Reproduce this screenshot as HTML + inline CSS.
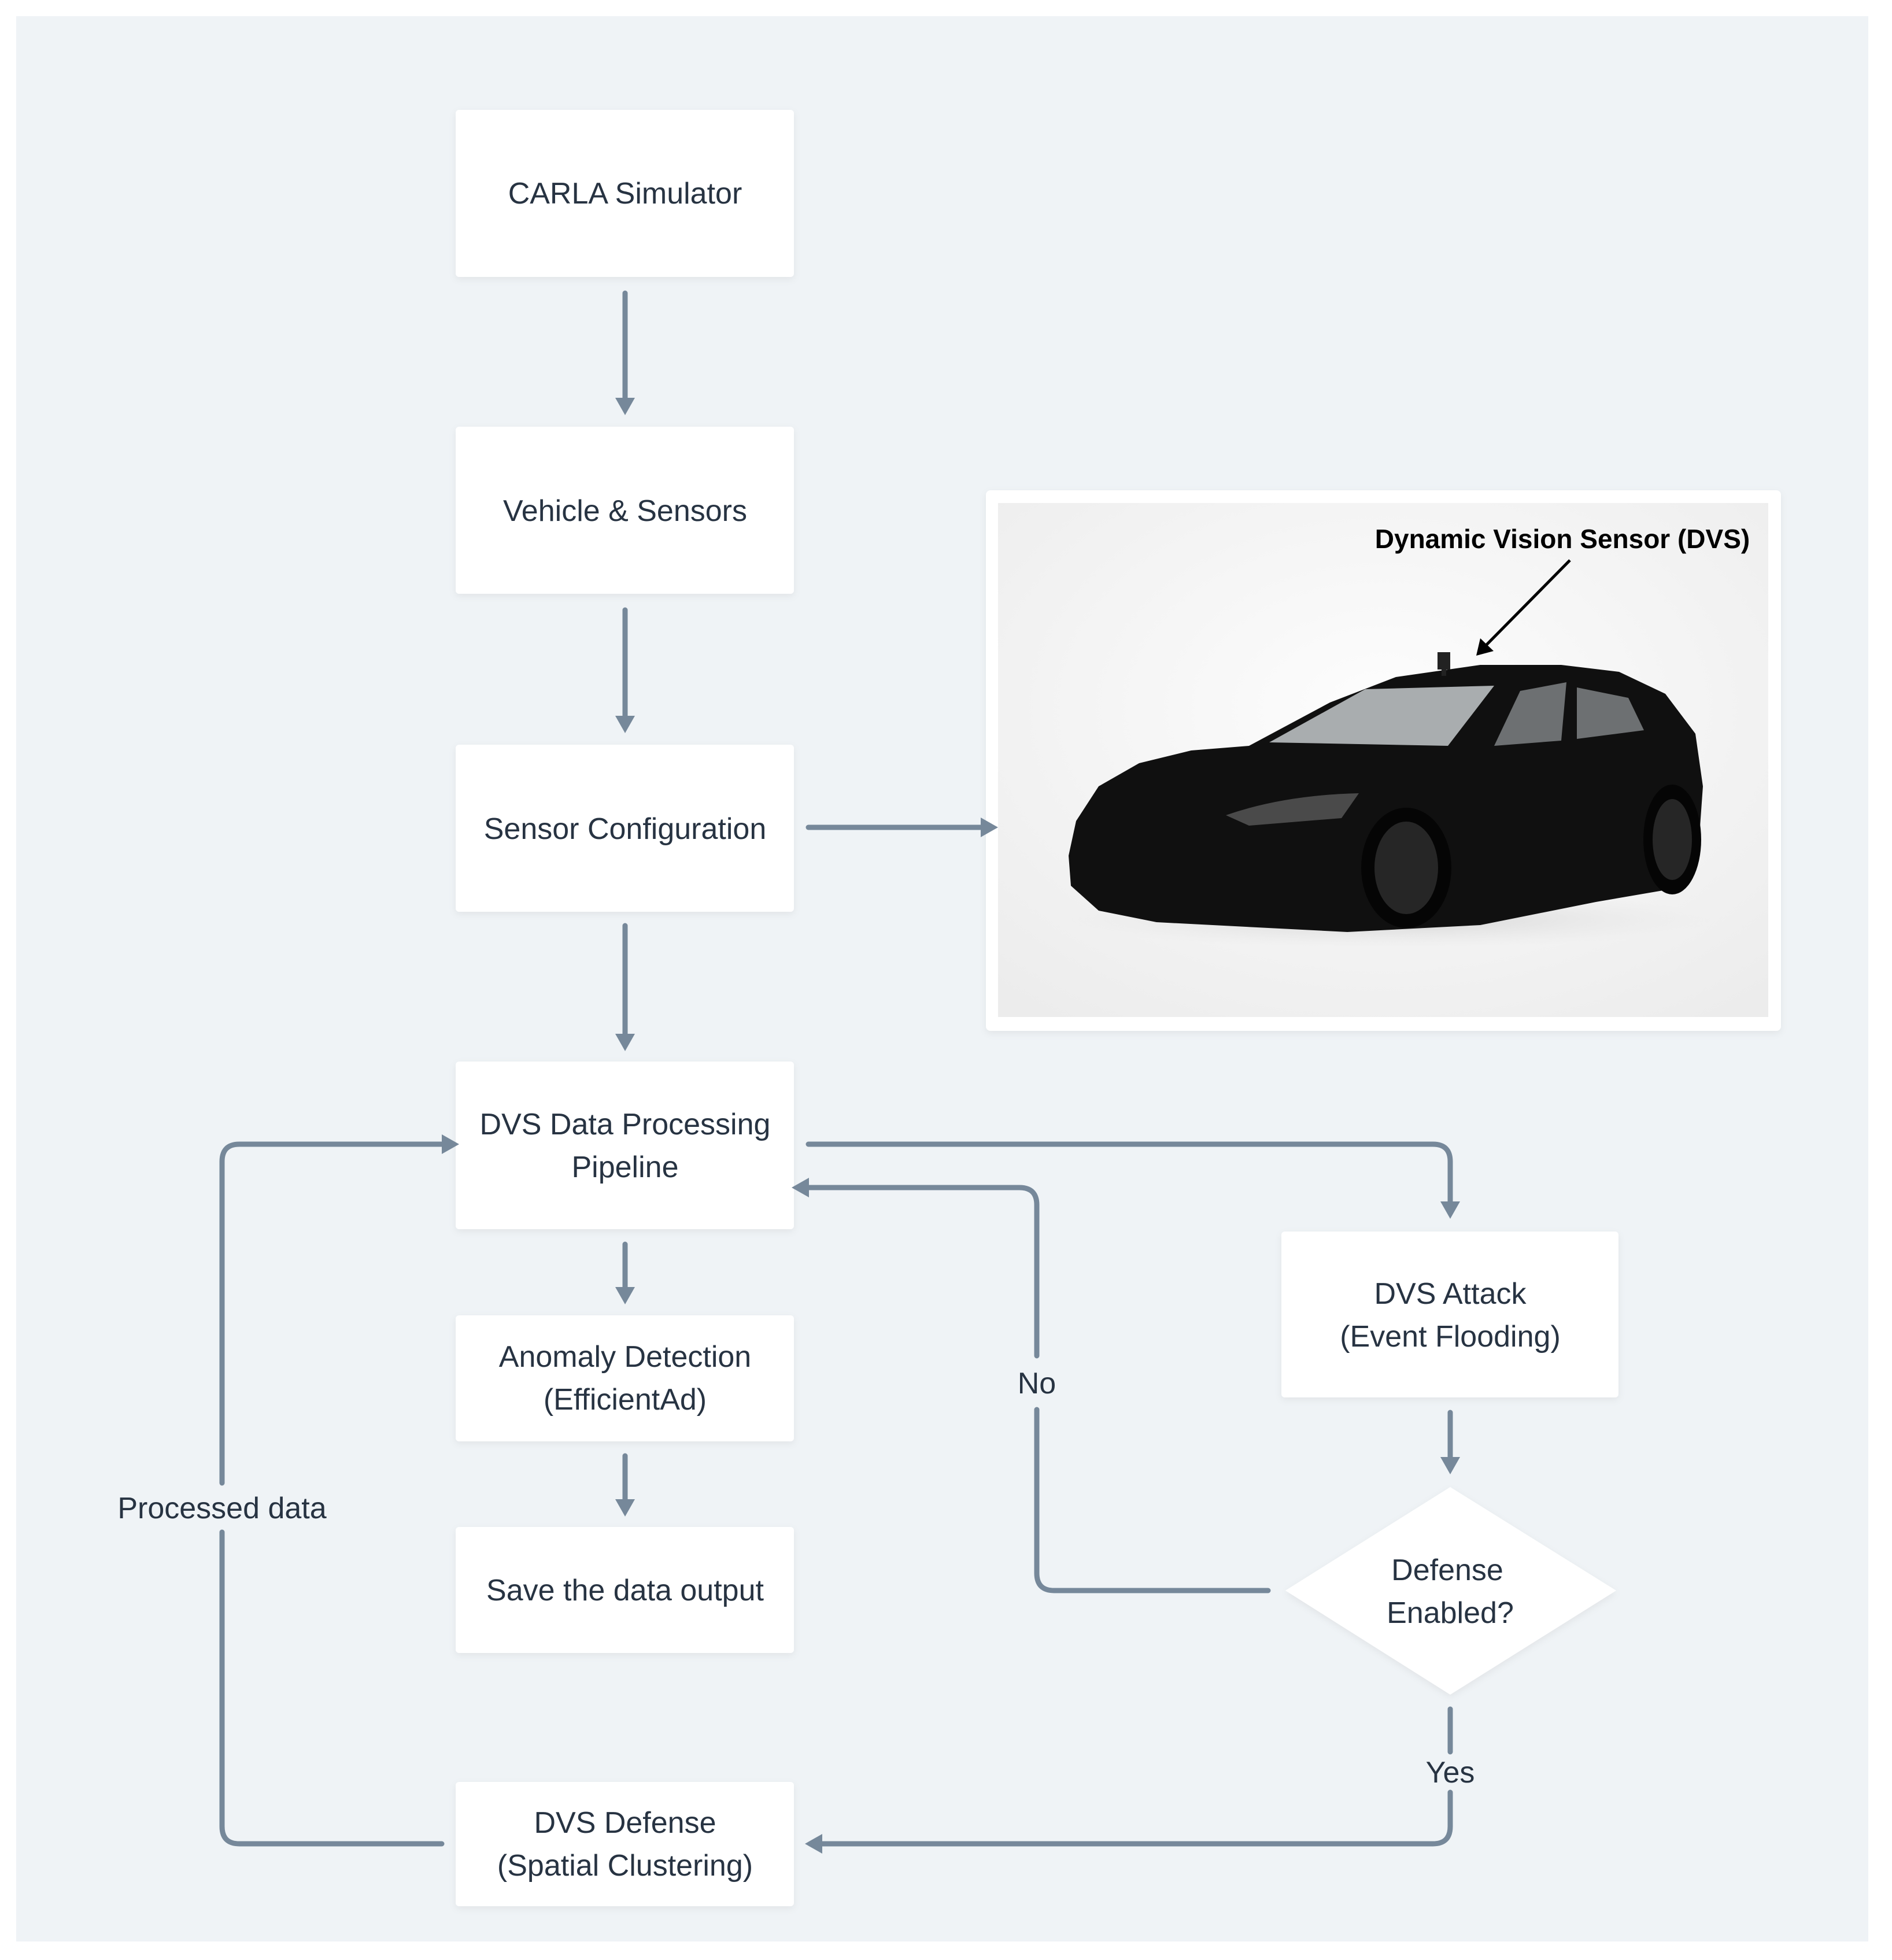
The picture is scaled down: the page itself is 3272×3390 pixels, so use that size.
<!DOCTYPE html>
<html><head><meta charset="utf-8"><style>
html,body{margin:0;padding:0;background:#fff;}
svg{display:block}
text{font-family:"Liberation Sans",sans-serif;}
</style></head><body>
<svg width="3272" height="3390" viewBox="0 0 3272 3390" xmlns="http://www.w3.org/2000/svg">
<defs>
<filter id="sh" x="-5%" y="-5%" width="110%" height="115%"><feDropShadow dx="0" dy="4" stdDeviation="6" flood-color="#000" flood-opacity="0.06"/></filter>
<radialGradient id="bgp" cx="0.5" cy="0.4" r="0.75"><stop offset="0" stop-color="#fdfdfd"/><stop offset="1" stop-color="#ececec"/></radialGradient>
<radialGradient id="gs" cx="0.5" cy="0.5" r="0.5"><stop offset="0" stop-color="#bbb" stop-opacity="0.6"/><stop offset="1" stop-color="#ddd" stop-opacity="0"/></radialGradient>
</defs>
<rect x="28" y="28" width="3203" height="3330" fill="#eff3f6"/>
<g fill="#fff" filter="url(#sh)">
<rect x="788" y="190" width="585" height="289" rx="6"/>
<rect x="788" y="738" width="585" height="289" rx="6"/>
<rect x="788" y="1288" width="585" height="289" rx="6"/>
<rect x="788" y="1836" width="585" height="290" rx="6"/>
<rect x="788" y="2275" width="585" height="218" rx="6"/>
<rect x="788" y="2641" width="585" height="218" rx="6"/>
<rect x="788" y="3082" width="585" height="215" rx="6"/>
<rect x="2216" y="2130" width="583" height="287" rx="6"/>
<polygon points="2508,2572 2795,2751 2508,2931 2223,2751"/>
<rect x="1705" y="848" width="1375" height="935" rx="8"/>
</g>
<rect x="1726" y="870" width="1332" height="889" fill="url(#bgp)"/>
<ellipse cx="2400" cy="1590" rx="560" ry="50" fill="url(#gs)"/>
<path d="M1852,1532 L1900,1575 L2000,1595 L2330,1612 L2560,1600 L2760,1560 L2888,1538 L2940,1430 L2945,1360 L2932,1269 L2880,1200 L2800,1162 L2700,1150 L2560,1150 L2414,1171 L2300,1215 L2160,1290 L2060,1298 L1970,1320 L1900,1360 L1861,1420 L1848,1480 Z" fill="#101010"/>
<polygon points="2195,1284 2361,1192 2584,1186 2504,1290" fill="#a9adaf"/>
<polygon points="2584,1290 2629,1195 2709,1180 2700,1281" fill="#6d7072"/>
<polygon points="2727,1278 2727,1189 2816,1207 2843,1263" fill="#6d7072"/>
<path d="M2120,1410 Q2220,1375 2350,1372 L2320,1415 L2160,1428 Z" fill="#4a4a4a"/>
<ellipse cx="2432" cy="1501" rx="78" ry="104" fill="#050505"/>
<ellipse cx="2432" cy="1501" rx="55" ry="80" fill="#262626"/>
<ellipse cx="2892" cy="1452" rx="50" ry="95" fill="#050505"/>
<ellipse cx="2892" cy="1452" rx="34" ry="70" fill="#262626"/>
<rect x="2486" y="1128" width="22" height="30" fill="#222"/>
<rect x="2493" y="1155" width="8" height="14" fill="#222"/>
<text x="2702" y="948" font-size="46" font-weight="bold" fill="#000" text-anchor="middle">Dynamic Vision Sensor (DVS)</text>
<line x1="2715" y1="969" x2="2568" y2="1118" stroke="#000" stroke-width="5"/>
<polygon points="2553,1134 2560,1104 2583,1126" fill="#000"/>
<g stroke="#76889a" stroke-width="9" fill="none" stroke-linecap="round" stroke-linejoin="round">
<line x1="1081" y1="507" x2="1081" y2="690"/>
<line x1="1081" y1="1055" x2="1081" y2="1240"/>
<line x1="1081" y1="1601" x2="1081" y2="1792"/>
<line x1="1081" y1="2152" x2="1081" y2="2230"/>
<line x1="1081" y1="2518" x2="1081" y2="2597"/>
<line x1="1398" y1="1431" x2="1700" y2="1431"/>
<path d="M1398,1979 L2478,1979 Q2508,1979 2508,2009 L2508,2083"/>
<line x1="2508" y1="2443" x2="2508" y2="2525"/>
<path d="M2193,2751 L1823,2751 Q1793,2751 1793,2721 L1793,2438"/>
<path d="M1793,2345 L1793,2084 Q1793,2054 1763,2054 L1393,2054"/>
<path d="M2508,2956 L2508,3030"/>
<path d="M2508,3100 L2508,3159 Q2508,3189 2478,3189 L1418,3189"/>
<path d="M764,3189 L414,3189 Q384,3189 384,3159 L384,2650"/>
<path d="M384,2565 L384,2009 Q384,1979 414,1979 L768,1979"/>
</g>
<g fill="#76889a">
<polygon points="1064,688 1098,688 1081,718"/>
<polygon points="1064,1238 1098,1238 1081,1268"/>
<polygon points="1064,1788 1098,1788 1081,1818"/>
<polygon points="1064,2226 1098,2226 1081,2256"/>
<polygon points="1064,2593 1098,2593 1081,2623"/>
<polygon points="1696,1414 1696,1448 1726,1431"/>
<polygon points="2491,2078 2525,2078 2508,2108"/>
<polygon points="2491,2520 2525,2520 2508,2550"/>
<polygon points="1399,2037 1399,2071 1369,2054"/>
<polygon points="1422,3172 1422,3206 1392,3189"/>
<polygon points="764,1962 764,1996 794,1979"/>
</g>
<g font-size="52" fill="#273342" text-anchor="middle">
<text x="1081" y="352">CARLA Simulator</text>
<text x="1081" y="901">Vehicle &amp; Sensors</text>
<text x="1081" y="1451">Sensor Configuration</text>
<text x="1081" y="1962">DVS Data Processing</text>
<text x="1081" y="2036">Pipeline</text>
<text x="1081" y="2364">Anomaly Detection</text>
<text x="1081" y="2438">(EfficientAd)</text>
<text x="1081" y="2768">Save the data output</text>
<text x="1081" y="3170">DVS Defense</text>
<text x="1081" y="3244">(Spatial Clustering)</text>
<text x="2508" y="2255">DVS Attack</text>
<text x="2508" y="2329">(Event Flooding)</text>
<text x="2503" y="2733">Defense</text>
<text x="2508" y="2807">Enabled?</text>
<text x="1793" y="2410">No</text>
<text x="2508" y="3083">Yes</text>
<text x="384" y="2626">Processed data</text>
</g>
</svg>
</body></html>
